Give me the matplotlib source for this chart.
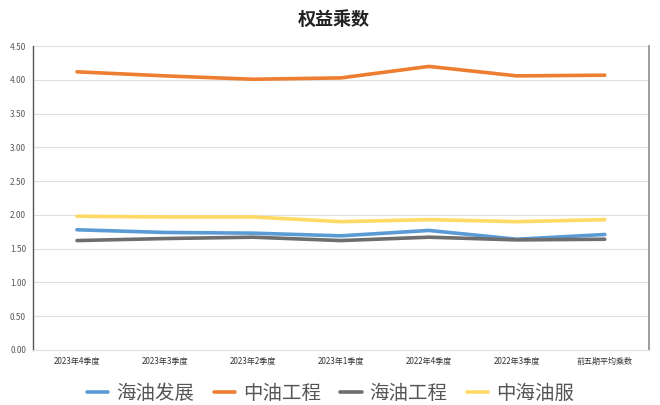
import matplotlib
matplotlib.use("Agg")
import matplotlib.pyplot as plt

plt.rcParams['font.family'] = ['Noto Sans CJK SC', 'DejaVu Sans']

categories = ["2023年4季度", "2023年3季度", "2023年2季度", "2023年1季度",
              "2022年4季度", "2022年3季度", "前五期平均乘数"]
series_names = ["海油发展", "中油工程", "海油工程", "中海油服"]
haiyou_fazhan = [1.78, 1.74, 1.73, 1.69, 1.77, 1.64, 1.71]
zhongyou_gongcheng = [4.12, 4.06, 4.01, 4.03, 4.20, 4.06, 4.07]
haiyou_gongcheng = [1.62, 1.65, 1.67, 1.62, 1.67, 1.63, 1.64]
zhonghaiyou_fu = [1.98, 1.97, 1.97, 1.90, 1.93, 1.90, 1.93]
yticks = [0.0, 0.5, 1.0, 1.5, 2.0, 2.5, 3.0, 3.5, 4.0, 4.5]

colors = ["#5B9BD5", "#ED7D31", "#6E6E6E", "#FFD966"]

fig = plt.figure(figsize=(6.6, 4.05), dpi=100)
ax = fig.add_axes([0.05, 0.136, 0.933, 0.750])

x = list(range(len(categories)))
for vals, name, c in zip([haiyou_fazhan, zhongyou_gongcheng, haiyou_gongcheng, zhonghaiyou_fu],
                         series_names, colors):
    ax.plot(x, vals, color=c, linewidth=2.6, label=name, solid_capstyle="round")

ax.set_xlim(-0.5, len(categories) - 0.5)
ax.set_ylim(0, 4.5)
ax.set_yticks(yticks)
ax.set_yticklabels([f"{v:.2f}" for v in yticks], fontsize=6, color="#595959")
ax.set_xticks(x)
ax.set_xticklabels(categories, fontsize=5.8, color="#333333")
ax.tick_params(axis="both", length=0, pad=5)
ax.grid(axis="y", color="#E0E0E0", linewidth=0.8)
ax.set_axisbelow(True)

ax.spines["top"].set_visible(False)
ax.spines["left"].set_color("#555555")
ax.spines["left"].set_linewidth(1.0)
ax.spines["right"].set_color("#8C8C8C")
ax.spines["right"].set_linewidth(1.2)
ax.spines["bottom"].set_color("#E0E0E0")

fig.suptitle("权益乘数", x=0.505, y=0.975, fontsize=13, fontweight="bold", color="#222222")

ax.legend(loc="upper center", bbox_to_anchor=(0.483, -0.05), ncol=4, frameon=False,
          fontsize=14, handlelength=1.1, handletextpad=0.4, columnspacing=1.0,
          labelcolor="#555555")

fig.savefig("out.png", dpi=100)
